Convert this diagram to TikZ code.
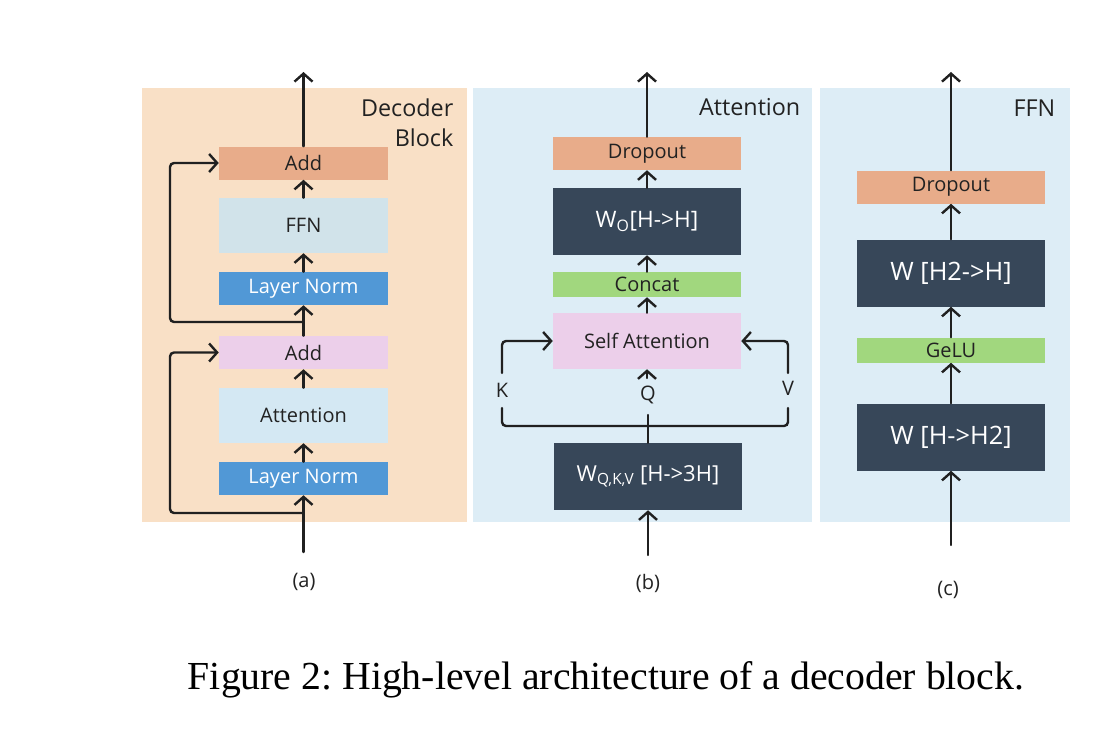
\documentclass[tikz,border=0pt]{standalone}
\usepackage{fontspec}
\setmainfont{Open Sans}
\newfontfamily\capfont{Liberation Serif}
\usetikzlibrary{arrows.meta}
\frenchspacing

\def\px{0.75pt}
\definecolor{bgpeach}{HTML}{F9E0C6}
\definecolor{bgblue}{HTML}{DDEDF6}
\definecolor{addorange}{HTML}{E8AC8A}
\definecolor{ffngray}{HTML}{D1E3EA}
\definecolor{attnblue}{HTML}{D4E8F3}
\definecolor{normblue}{HTML}{5198D6}
\definecolor{addpink}{HTML}{ECCFEA}
\definecolor{wdark}{HTML}{374759}
\definecolor{actgreen}{HTML}{A1D77E}
\definecolor{linedark}{HTML}{202020}
\definecolor{txtdark}{HTML}{222222}

\begin{document}
\begin{tikzpicture}[x=0.75pt, y=-0.75pt,
  blk/.style={rectangle, inner sep=0pt, minimum width=169*\px, minimum height=33*\px,
    text=txtdark, font=\fontsize{15}{18}\selectfont},
  wide/.style={blk, minimum width=188*\px},
  wbox/.style={wide, fill=wdark, minimum height=67*\px, text=white, font=\fontsize{17}{20}\selectfont},
  ttl/.style={anchor=north east, align=right, text=txtdark, font=\fontsize{17.5}{22.5}\selectfont},
  lbl/.style={text=txtdark, font=\fontsize{15}{18}\selectfont}]

\useasboundingbox (0,0) rectangle (1102,742);

% panels
\fill[bgpeach] (142,88) rectangle (467,522);
\fill[bgblue]  (473,88) rectangle (812,522);
\fill[bgblue]  (820,88) rectangle (1070,522);

\node[ttl] (tA) at (458,94) {Decoder\\Block};
\node[ttl] (tB) at (805,94) {Attention};
\node[ttl] (tC) at (1060,95) {FFN};

% (a) decoder block
\node[blk, fill=addorange] (addTwo) at (303.5,163) {Add};
\node[blk, fill=ffngray, minimum height=55*\px] (ffnA) at (303.5,225.5) {FFN};
\node[blk, fill=normblue, text=white] (lnTwo) at (303.5,288.5) {Layer Norm};
\node[blk, fill=addpink] (addOne) at (303.5,352.5) {Add};
\node[blk, fill=attnblue, minimum height=55*\px] (attnA) at (303.5,415.5) {Attention};
\node[blk, fill=normblue, text=white] (lnOne) at (303.5,478.5) {Layer Norm};

\coordinate (inA) at (303.5,552);
\coordinate (outA) at (303.5,72);
\coordinate (forkOne) at (303.5,513);
\coordinate (forkTwo) at (303.5,322);
\coordinate (skipOne) at (170,430);
\coordinate (skipTwo) at (170,240);

% (b) attention
\node[wide, fill=addorange] (dropB) at (647,153.5) {Dropout};
\node[wbox] (wo) at (647,221.5) {W\textsubscript{O}[H->H]};
\node[wide, fill=actgreen, minimum height=25*\px] (concat) at (647,284.5) {Concat};
\node[wide, fill=addpink, minimum height=56*\px] (selfattn) at (647,341) {Self Attention};
\node[wbox, font=\fontsize{16.5}{20}\selectfont] (wqkv) at (648,476.5) {W\textsubscript{Q,K,V} [H->3H]};

\node[lbl] (kLbl) at (502,390) {K};
\node[lbl] (qLbl) at (648,395) {Q};
\node[lbl] (vLbl) at (788,388) {V};

\coordinate (inB) at (648,555);
\coordinate (outB) at (647,72);
\coordinate (kTop) at (502,373);
\coordinate (vTop) at (788,373);
\coordinate (qTop) at (647,378);
\coordinate (kBot) at (502,408);
\coordinate (vBot) at (788,408);
\coordinate (qBot) at (648,415);
\coordinate (bus) at (648,426);

% (c) ffn
\node[wide, fill=addorange] (dropC) at (951,187) {Dropout};
\node[wbox, font=\fontsize{19}{22}\selectfont] (wdown) at (951,273) {W [H2->H]};
\node[wide, fill=actgreen, minimum height=25*\px] (gelu) at (951,350) {GeLU};
\node[wbox, font=\fontsize{19}{22}\selectfont] (wup) at (951,437) {W [H->H2]};

\coordinate (inC) at (951,545);
\coordinate (outC) at (951,72);

\node[lbl] (capA) at (304,582) {(a)};
\node[lbl] (capB) at (648,583) {(b)};
\node[lbl] (capC) at (948,590) {(c)};

\node[font=\capfont\fontsize{29.8}{34}\selectfont] (fig) at (606,680) {Figure 2: High-level architecture of a decoder block.};

\begin{scope}[line width=1.8pt, linedark, line cap=round, -{Straight Barb[length=6pt,width=13.5pt]}]
\draw (inA) -- (lnOne.south);
\draw (lnOne.north) -- (attnA.south);
\draw (attnA.north) -- (addOne.south);
\draw (addOne.north) -- (lnTwo.south);
\draw (lnTwo.north) -- (ffnA.south);
\draw (ffnA.north) -- (addTwo.south);
\draw (addTwo.north) -- (outA);
\draw[rounded corners=3pt] (forkOne) -| (skipOne) |- (addOne.west); %res1
\draw[rounded corners=3pt] (forkTwo) -| (skipTwo) |- (addTwo.west); %res2

\draw (inB) -- (wqkv.south);
\draw[rounded corners=3pt] (kTop) |- (selfattn.west); %K
\draw[rounded corners=3pt] (vTop) |- (selfattn.east); %V
\draw (qTop) -- (selfattn.south); %Q
\draw (selfattn.north) -- (concat.south);
\draw (concat.north) -- (wo.south);
\draw (wo.north) -- (dropB.south);
\draw (dropB.north) -- (outB);

\draw (inC) -- (wup.south);
\draw (wup.north) -- (gelu.south);
\draw (gelu.north) -- (wdown.south);
\draw (wdown.north) -- (dropC.south);
\draw (dropC.north) -- (outC);
\end{scope}

\begin{scope}[line width=1.8pt, linedark, line cap=round]
\draw[rounded corners=3pt] (kBot) |- (bus) -| (vBot);
\draw (wqkv.north) -- (qBot);
\end{scope}

\end{tikzpicture}
\end{document}
